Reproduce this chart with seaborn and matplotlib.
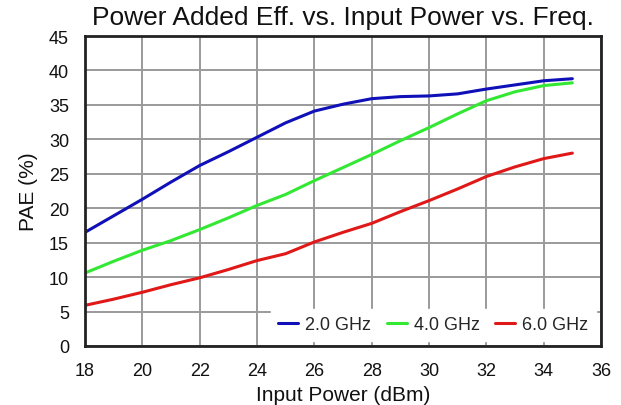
import matplotlib
matplotlib.use("Agg")
import matplotlib.pyplot as plt
import seaborn as sns
import pandas as pd

pin = list(range(18, 36))
pae_2ghz = [16.5, 18.9, 21.3, 23.8, 26.2, 28.2, 30.3, 32.4, 34.1, 35.1, 35.9, 36.2, 36.3, 36.6, 37.3, 37.9, 38.5, 38.8]
pae_4ghz = [10.6, 12.3, 13.9, 15.3, 16.9, 18.6, 20.4, 22.0, 24.0, 25.9, 27.8, 29.8, 31.7, 33.7, 35.6, 36.9, 37.8, 38.2]
pae_6ghz = [5.9, 6.8, 7.8, 8.9, 9.9, 11.1, 12.4, 13.4, 15.1, 16.5, 17.8, 19.5, 21.1, 22.8, 24.6, 26.0, 27.2, 28.0]
series = ["2.0 GHz", "4.0 GHz", "6.0 GHz"]
colors = ["#1010b8", "#33e833", "#e01818"]
x_ticks = list(range(18, 37, 2))
y_ticks = list(range(0, 46, 5))

df = pd.concat([
    pd.DataFrame({"pin": pin, "pae": v, "freq": s})
    for s, v in zip(series, [pae_2ghz, pae_4ghz, pae_6ghz])
])

sns.set_theme(style="white")
plt.rcParams["font.family"] = ["Liberation Sans", "DejaVu Sans"]

fig = plt.figure(figsize=(6.21, 4.06), dpi=100)
ax = fig.add_axes([85 / 621, 1 - 347 / 406, 516 / 621, 310 / 406])
sns.lineplot(data=df, x="pin", y="pae", hue="freq", palette=colors, linewidth=2.2, ax=ax)

ax.set_xlim(18, 36)
ax.set_ylim(0, 45)
ax.set_xticks(x_ticks)
ax.set_yticks(y_ticks)
ax.grid(True, color="#9a9a9a", linewidth=1.4)
ax.set_axisbelow(True)
for sp in ax.spines.values():
    sp.set_color("#222222")
    sp.set_linewidth(2)
ax.tick_params(direction="in", length=4, color="#9a9a9a", labelsize=13, labelcolor="#111111")
ax.tick_params(axis="x", pad=11.5)
ax.tick_params(axis="y", pad=11.5)
ax.set_xlabel("Input Power (dBm)", fontsize=15, color="#111111", labelpad=4)
ax.set_ylabel("PAE (%)", fontsize=15, color="#111111", labelpad=8)
ax.set_title("Power Added Eff. vs. Input Power vs. Freq.", fontsize=19, color="#111111", pad=8.5)

leg = ax.legend(loc="lower right", ncol=3, fontsize=13, frameon=True, fancybox=False,
                borderaxespad=0.3, handlelength=1.1, handletextpad=0.4, columnspacing=0.85,
                borderpad=0.4)
leg.get_frame().set_edgecolor("white")
leg.get_frame().set_facecolor("white")
leg.get_frame().set_alpha(1)
for line in leg.get_lines():
    line.set_linewidth(2.2)

fig.savefig("out.png", dpi=100)
